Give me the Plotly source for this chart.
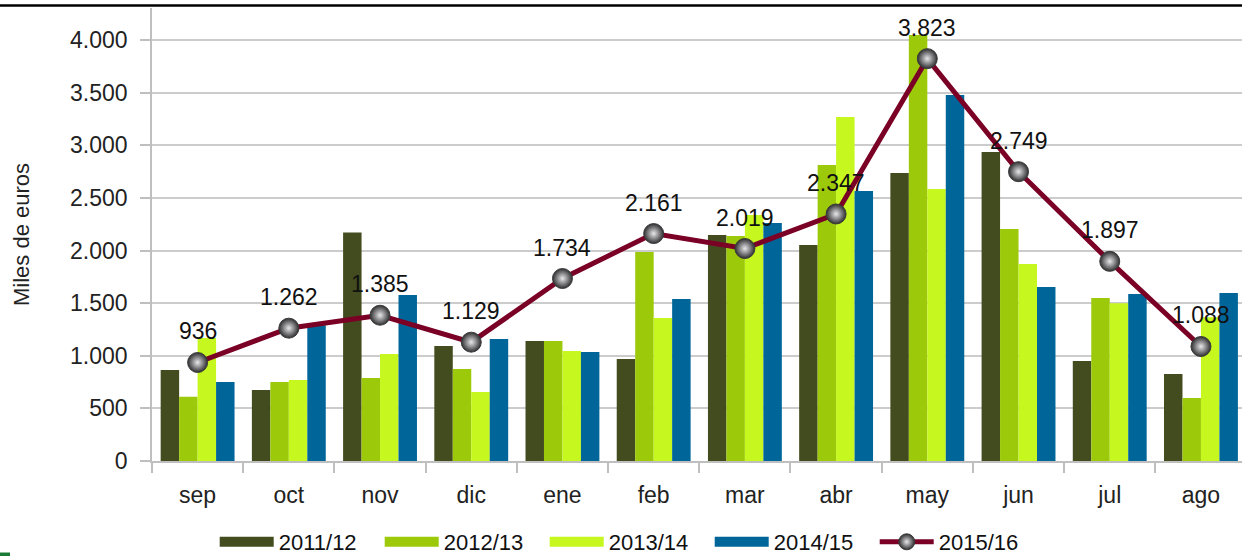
import plotly.graph_objects as go

months = ["sep", "oct", "nov", "dic", "ene", "feb", "mar", "abr", "may", "jun", "jul", "ago"]
s2011 = [865, 675, 2172, 1093, 1140, 969, 2147, 2052, 2736, 2935, 950, 826]
s2012 = [611, 750, 788, 874, 1140, 1985, 2137, 2812, 4047, 2204, 1549, 598]
s2013 = [1168, 770, 1016, 655, 1045, 1358, 2337, 3268, 2584, 1871, 1498, 1365]
s2014 = [750, 1290, 1577, 1159, 1036, 1539, 2261, 2565, 3477, 1653, 1587, 1596]
s2015 = [936, 1262, 1385, 1129, 1734, 2161, 2019, 2347, 3823, 2749, 1897, 1088]
yticks = [0, 500, 1000, 1500, 2000, 2500, 3000, 3500, 4000]

bar_series = [
    ("2011/12", s2011, "#434c1f"),
    ("2012/13", s2012, "#9cc90a"),
    ("2013/14", s2013, "#c6f71e"),
    ("2014/15", s2014, "#00669a"),
]
line_color = "#7a0026"
FONT = "Liberation Sans"
FS = 23

def fmt(v):
    return f"{v:,}".replace(",", ".")

fig = go.Figure()
for name, vals, col in bar_series:
    fig.add_trace(go.Bar(x=months, y=vals, name=name, marker=dict(color=col, line=dict(width=0)),
                         showlegend=False))
# legend proxies for bars (wide swatches)
for name, vals, col in bar_series:
    fig.add_trace(go.Scatter(x=[None], y=[None], mode="lines", name=name,
                             line=dict(color=col, width=14), showlegend=True))

fig.add_trace(go.Scatter(
    x=months, y=s2015, name="2015/16", mode="lines+markers",
    line=dict(color=line_color, width=5),
    marker=dict(size=20, color="#2e2e30", gradient=dict(type="radial", color="#e8e8ea"),
                line=dict(color="#3a3a3a", width=1)),
))

annotations = [
    dict(x=m, y=v, text=fmt(v), showarrow=False, yshift=31, yanchor="middle",
         font=dict(family=FONT, size=FS, color="#111111"))
    for m, v in zip(months, s2015)
]

L, T, B = 152, 8, 95
W, H = 1242, 556
pw, ph = W - L, H - T - B
bottom_px = T + ph

def py(p):
    return (bottom_px - p) / ph

shapes = [
    dict(type="line", xref="paper", yref="paper", x0=-L / pw, x1=1.0, y0=py(5.5), y1=py(5.5),
         line=dict(color="#000000", width=2.5)),
    dict(type="rect", xref="paper", yref="paper", x0=-L / pw, x1=(-L + 10) / pw,
         y0=py(557), y1=py(552.5), fillcolor="#1b7a33", line=dict(width=0)),
]

fig.update_layout(
    width=W, height=H,
    margin=dict(l=L, r=0, t=T, b=B),
    paper_bgcolor="white", plot_bgcolor="white",
    barmode="group", bargap=0.19, bargroupgap=0,
    separators=",.",
    font=dict(family=FONT, size=FS, color="#222222"),
    showlegend=True,
    legend=dict(orientation="h", xref="container", yref="container", x=0.505, xanchor="center",
                y=1 - 542 / H, yanchor="middle", itemwidth=54, entrywidth=96, entrywidthmode="pixels",
                font=dict(family=FONT, size=22, color="#111111"), traceorder="normal",
                itemclick=False, tracegroupgap=0),
    annotations=annotations,
    shapes=shapes,
    xaxis=dict(range=[-0.5, 11.45], showgrid=False, showline=True, linecolor="#bfbfbf", linewidth=1.5,
               ticks="outside", tickson="boundaries", ticklen=10, tickcolor="#bfbfbf", tickwidth=1.5,
               ticklabelstandoff=13, tickfont=dict(family=FONT, size=FS, color="#222222")),
    yaxis=dict(range=[0, (461 - T) / ((461 - 40) / 4000)], tickvals=yticks, tickformat=",d",
               showgrid=True, gridcolor="#cccccc", gridwidth=1.5, zeroline=False,
               showline=True, linecolor="#bfbfbf", linewidth=1.5,
               ticks="outside", ticklen=10, tickcolor="#bfbfbf", tickwidth=1.5,
               ticklabelstandoff=8, tickfont=dict(family=FONT, size=FS, color="#222222")
               , title=dict(text="Miles de euros", standoff=34, font=dict(family=FONT, size=22, color="#222222"))),
)

fig.write_html("out.html")
